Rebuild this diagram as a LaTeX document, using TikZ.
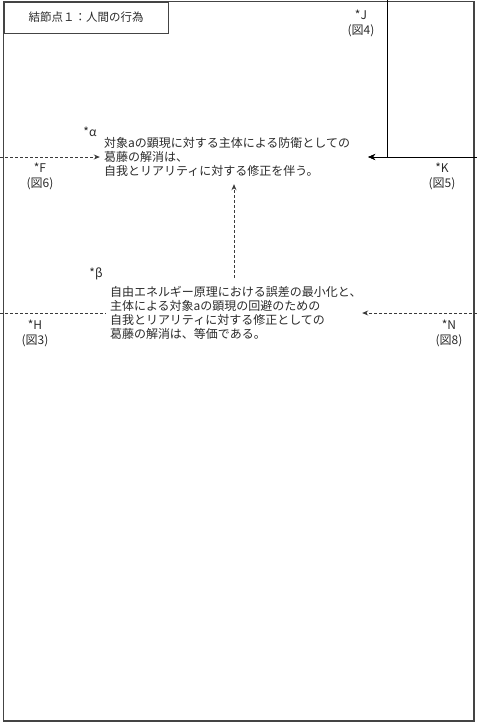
\documentclass[tikz,border=0pt]{standalone}
\usepackage{fontspec}
\setmainfont{Noto Sans CJK JP}
\usetikzlibrary{arrows.meta}
\definecolor{linec}{HTML}{3A3A3A}
\definecolor{textc}{HTML}{2A2A2A}
\tikzset{
  frame/.style={draw=linec!85!gray, line width=1.1pt},
  lbl/.style={inner sep=0pt, text=textc, font=\fontsize{12}{14.5}\selectfont, align=center},
  stmt/.style={inner xsep=4pt, inner ysep=0pt, text=textc, align=left,
    font=\fontsize{12}{14}\selectfont},
  solidarr/.style={draw=black, line width=0.9pt, -{Stealth[length=7pt,width=6pt]}},
  dasharr/.style={draw=linec, line width=0.8pt, dash pattern=on 3pt off 2pt, -{Stealth[length=6pt,width=5pt]}},
  dashline/.style={draw=linec, line width=0.8pt, dash pattern=on 3pt off 2pt},
}
\begin{document}
\begin{tikzpicture}[x=1pt,y=-1pt]
\useasboundingbox (0,0) rectangle (477,724);
% outer frame
\draw[frame] (3.5,1.5) rectangle (474,721);
% title box
\node[frame, minimum width=164pt, minimum height=31pt, anchor=north west, inner sep=0pt,
  text=textc, font=\fontsize{11.5}{13}\selectfont] (title) at (3.5,1.5) {結節点１：人間の行為};

% statements
\node[stmt, minimum width=268pt, minimum height=54pt, text width=260pt] (alpha) at (234,157)
  {対象aの顕現に対する主体による防衛としての\\葛藤の解消は、\\自我とリアリティに対する修正を伴う。};
\node[stmt, minimum width=256pt, minimum height=70pt, text width=248pt] (beta) at (234,313)
  {自由エネルギー原理における誤差の最小化と、\\主体による対象aの顕現の回避のための\\自我とリアリティに対する修正としての\\葛藤の解消は、等価である。};

% labels
\node[lbl] (la) at (90,132) {*α};
\node[lbl] (lb) at (96,274) {*β};
\node[lbl] (lj) at (361,23.5) {*J\\(図4)};
\node[lbl] (lk) at (442,176.5) {*K\\(図5)};
\node[lbl] (lf) at (40,176.5) {*F\\(図6)};
\node[lbl] (lh) at (35,333.5) {*H\\(図3)};
\node[lbl] (ln) at (449,333.5) {*N\\(図8)};

% connector end points
\coordinate (jtop) at (387,0);
\coordinate (kright) at (477,157);
\coordinate (fleft) at (0,157);
\coordinate (hleft) at (0,313);
\coordinate (nright) at (477,313);

% connectors
\draw[solidarr] (kright) -- (alpha.east);
\draw[solidarr] (jtop) |- (alpha.east);
\draw[dasharr] (fleft) -- (alpha.west);
\draw[dasharr] (beta.north) -- (alpha.south);
\draw[dashline] (hleft) -- (beta.west);
\draw[dasharr] (nright) -- (beta.east);
\end{tikzpicture}
\end{document}
